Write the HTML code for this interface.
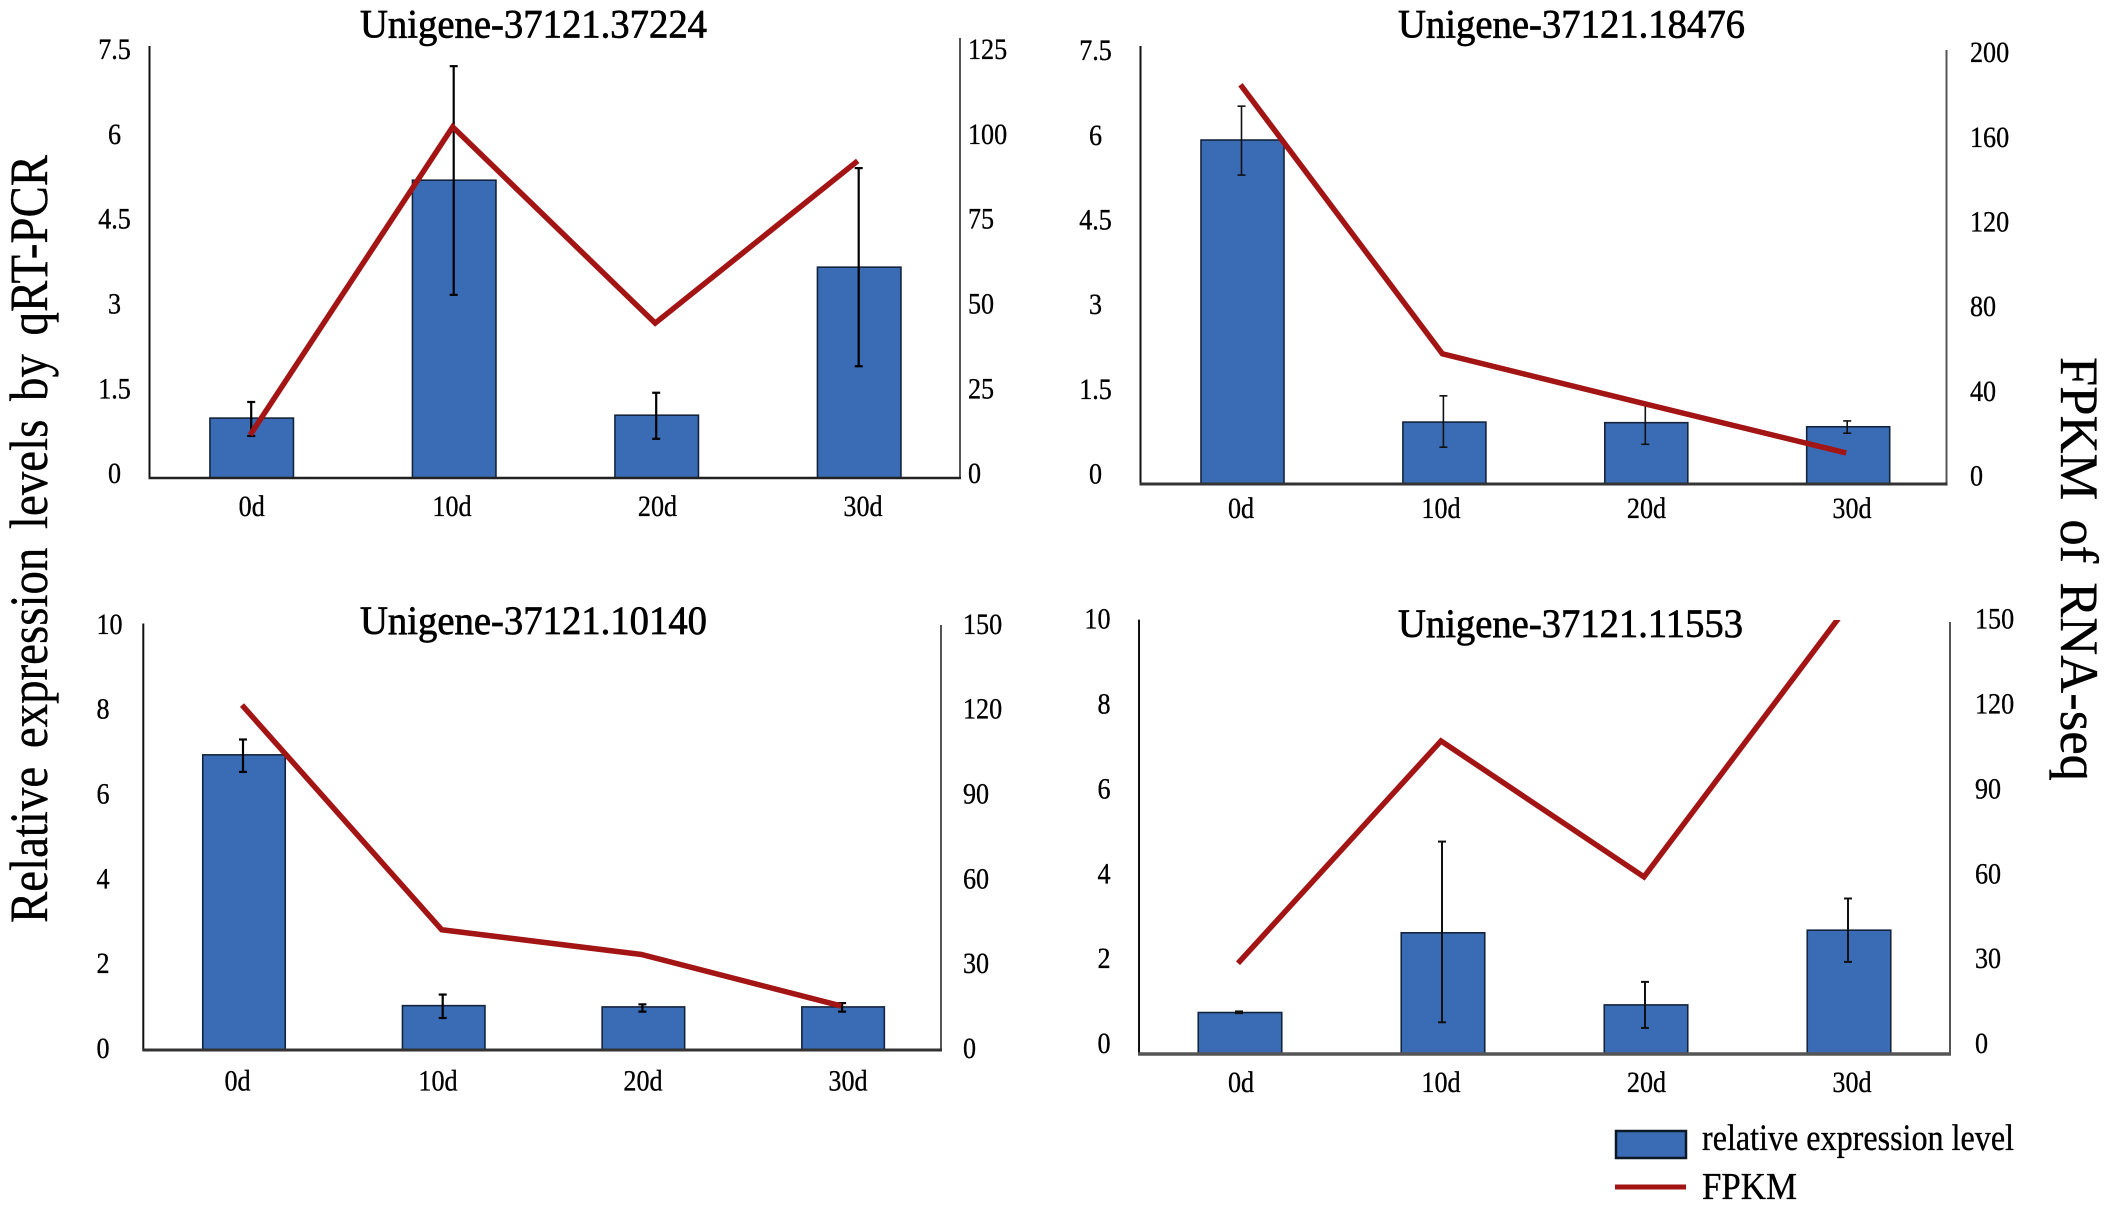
<!DOCTYPE html>
<html lang="en">
<head>
<meta charset="utf-8">
<title>Relative expression and FPKM of four unigenes</title>
<style>
html,body{margin:0;padding:0;background:#fff;}
svg{display:block;}
text{font-family:"Liberation Serif","Times New Roman",serif;fill:#000;stroke:#000;stroke-width:0.35px;}
.title{font-size:40px;stroke-width:0.7px;}
</style>
</head>
<body>
<svg id="figure" xmlns="http://www.w3.org/2000/svg" width="2110" height="1208" viewBox="0 0 2110 1208">
  <rect x="0" y="0" width="2110" height="1208" fill="#ffffff"/>
  <text transform="translate(47,923) rotate(-90)" font-size="54" word-spacing="8" textLength="768" lengthAdjust="spacingAndGlyphs">Relative expression levels by qRT-PCR</text>
  <text transform="translate(2061,357) rotate(90)" font-size="54" word-spacing="6" textLength="424" lengthAdjust="spacingAndGlyphs">FPKM of RNA-seq</text>
  <g id="panels"></g>
  <text class="title" x="360" y="37.5" textLength="347" lengthAdjust="spacingAndGlyphs">Unigene-37121.37224</text>
  <text class="title" x="1398" y="37.5" textLength="347" lengthAdjust="spacingAndGlyphs">Unigene-37121.18476</text>
  <text class="title" x="360" y="634" textLength="347" lengthAdjust="spacingAndGlyphs">Unigene-37121.10140</text>
  <text class="title" x="1398" y="637" textLength="345" lengthAdjust="spacingAndGlyphs">Unigene-37121.11553</text>
  <g>
    <rect x="1616" y="1131" width="70" height="27" fill="#3a6cb5" stroke="#0d1826" stroke-width="2.5"/>
    <text x="1702" y="1150" font-size="37" textLength="312" lengthAdjust="spacingAndGlyphs">relative expression level</text>
    <line x1="1615" y1="1187" x2="1686" y2="1187" stroke="#a31515" stroke-width="5"/>
    <text x="1702" y="1199" font-size="38" textLength="95" lengthAdjust="spacingAndGlyphs">FPKM</text>
  </g>
</svg>
<script>
// ---- data ----
const categories = ['0d', '10d', '20d', '30d'];

const ticksLeft37224 = [0, 1.5, 3, 4.5, 6, 7.5];
const ticksRight37224 = [0, 25, 50, 75, 100, 125];
const bars37224 = [1.04, 5.17, 1.09, 3.66];
const errHigh37224 = [1.32, 7.15, 1.48, 5.38];
const errLow37224 = [0.73, 3.18, 0.68, 1.94];
const fpkm37224 = [12.3, 100.2, 44.2, 90.5];

const ticksLeft18476 = [0, 1.5, 3, 4.5, 6, 7.5];
const ticksRight18476 = [0, 40, 80, 120, 160, 200];
const bars18476 = [5.89, 1.06, 1.05, 0.98];
const errHigh18476 = [6.47, 1.51, 1.39, 1.08];
const errLow18476 = [5.29, 0.63, 0.68, 0.87];
const fpkm18476 = [184, 60, 37, 14.3];

const ticksLeft10140 = [0, 2, 4, 6, 8, 10];
const ticksRight10140 = [0, 30, 60, 90, 120, 150];
const bars10140 = [6.92, 1.04, 1.01, 1.01];
const errHigh10140 = [7.28, 1.30, 1.07, 1.10];
const errLow10140 = [6.52, 0.75, 0.90, 0.90];
const fpkm10140 = [121.3, 42.3, 33.6, 15.5];

const ticksLeft11553 = [0, 2, 4, 6, 8, 10];
const ticksRight11553 = [0, 30, 60, 90, 120, 150];
const bars11553 = [0.955, 2.79, 1.13, 2.85];
const errHigh11553 = [0.98, 4.89, 1.66, 3.58];
const errLow11553 = [0.94, 0.73, 0.60, 2.12];
const fpkm11553 = [31.5, 108.7, 61.5, 155.2];

// ---- panel layout (pixels) ----
const panels = [
  {id:'37224', ticksL:ticksLeft37224, ticksR:ticksRight37224, bars:bars37224, hi:errHigh37224, lo:errLow37224, line:fpkm37224,
   left:149.5, right:960, base:478, topL:46, topR:40, axisTopL:46, axisTopR:38, barX:251.7, barStep:202.5, barW:83.5, markOff:-0.5,
   lab0L:473, labTopL:49, lab0R:473, labTopR:49, labLX:114.5, labLAnchor:'middle', labRX:968, catFirst:251.7, catSecond:452, catStep:205.5, catY:506, baseW:2.5, baseC:'#222', errW:2.2, errC:'#000'},
  {id:'18476', ticksL:ticksLeft18476, ticksR:ticksRight18476, bars:bars18476, hi:errHigh18476, lo:errLow18476, line:fpkm18476,
   left:1140.5, right:1946.5, base:484, topL:46, topR:50, axisTopL:46, axisTopR:50, barX:1242.5, barStep:201.9, barW:83, markOff:-1,
   lab0L:473.5, labTopL:50, lab0R:475.5, labTopR:52, labLX:1095.5, labLAnchor:'middle', labRX:1970, catFirst:1241, catSecond:1441, catStep:205.5, catY:508, baseW:3, baseC:'#333', errW:1.6, errC:'#111'},
  {id:'10140', ticksL:ticksLeft10140, ticksR:ticksRight10140, bars:bars10140, hi:errHigh10140, lo:errLow10140, line:fpkm10140,
   left:143.3, right:941, base:1050, topL:623.5, topR:623.5, axisTopL:623.5, axisTopR:625, barX:244, barStep:199.7, barW:82.5, markOff:-1,
   lab0L:1048, labTopL:623.7, lab0R:1048, labTopR:623.7, labLX:96.5, labLAnchor:'start', labRX:963, catFirst:237.5, catSecond:438, catStep:205, catY:1080.5, baseW:3, baseC:'#333', errW:2.2, errC:'#000'},
  {id:'11553', ticksL:ticksLeft11553, ticksR:ticksRight11553, bars:bars11553, hi:errHigh11553, lo:errLow11553, line:fpkm11553,
   left:1139, right:1950, base:1054, topL:619.6, topR:622, axisTopL:619.6, axisTopR:622, barX:1240, barStep:203, barW:83.5, markOff:-1,
   lab0L:1043, labTopL:618.6, lab0R:1043, labTopR:618.6, labLX:1110.5, labLAnchor:'end', labRX:1975, catFirst:1241, catSecond:1441, catStep:205.5, catY:1081.7, baseW:3.5, baseC:'#555', errW:2, errC:'#111'}
];

const NS = 'http://www.w3.org/2000/svg';
const BAR_FILL = '#3a6cb5';
const LINE_COLOR = '#a31515';
const TICK_FONT = 30;
const SQUEEZE = 0.87;

function add(parent, tag, name) {
  const el = document.createElementNS(NS, tag);
  
  
  parent.appendChild(el);
  return el;
}

function seg(parent, name, x1, y1, x2, y2, color, width) {
  const l = add(parent, 'line', name);
  l.setAttribute('x1', x1);
  l.setAttribute('y1', y1);
  l.setAttribute('x2', x2);
  l.setAttribute('y2', y2);
  l.setAttribute('stroke', color);
  l.setAttribute('stroke-width', width);
  return l;
}

function label(parent, name, str, x, yCenter, anchor) {
  const t = add(parent, 'text', name);
  t.textContent = str;
  t.setAttribute('font-size', TICK_FONT);
  t.setAttribute('text-anchor', anchor);
  t.setAttribute('transform', 'translate(' + x + ',' + (yCenter + TICK_FONT * 0.335) + ') scale(' + SQUEEZE + ',1)');
  return t;
}

const root = document.getElementById('panels');

panels.forEach(function (p) {
  const maxL = p.ticksL[p.ticksL.length - 1];
  const maxR = p.ticksR[p.ticksR.length - 1];
  const yL = function (v) { return p.base - v / maxL * (p.base - p.topL); };
  const yR = function (v) { return p.base - v / maxR * (p.base - p.topR); };
  const barCenter = function (i) { return p.barX + i * p.barStep; };
  const labelYL = function (frac) { return p.lab0L + (p.labTopL - p.lab0L) * frac; };
  const labelYR = function (frac) { return p.lab0R + (p.labTopR - p.lab0R) * frac; };
  const catCenter = function (i) { return i === 0 ? p.catFirst : p.catSecond + (i - 1) * p.catStep; };

  const g = add(root, 'g', 'panel-' + p.id);

  // bars
  categories.forEach(function (c, i) {
    const r = add(g, 'rect', 'bar-' + p.id + '-' + c);
    r.setAttribute('x', barCenter(i) - p.barW / 2);
    r.setAttribute('y', yL(p.bars[i]));
    r.setAttribute('width', p.barW);
    r.setAttribute('height', p.base - yL(p.bars[i]));
    r.setAttribute('fill', BAR_FILL);
    r.setAttribute('stroke', '#14243c');
    r.setAttribute('stroke-width', 1.6);
  });

  // axes
  seg(g, 'left-axis-' + p.id, p.left, p.axisTopL, p.left, p.base, '#111', 2);
  seg(g, 'right-axis-' + p.id, p.right, p.axisTopR, p.right, p.base, '#555', 2);
  seg(g, 'x-axis-' + p.id, p.left - 1, p.base, p.right + 1, p.base, p.baseC, p.baseW);

  // error bars
  categories.forEach(function (c, i) {
    const ex = barCenter(i) + p.markOff;
    const eg = add(g, 'g', 'error-bar-' + p.id + '-' + c);
    seg(eg, 'error-stem', ex, yL(p.hi[i]), ex, yL(p.lo[i]), p.errC, p.errW);
    seg(eg, 'error-cap-top', ex - 4, yL(p.hi[i]), ex + 4, yL(p.hi[i]), p.errC, p.errW);
    seg(eg, 'error-cap-bottom', ex - 4, yL(p.lo[i]), ex + 4, yL(p.lo[i]), p.errC, p.errW);
  });

  // FPKM line, clipped to the plot area
  const clip = add(g, 'clipPath', 'plot-clip-' + p.id);
  clip.setAttribute('id', 'clip-' + p.id);
  const clipRect = add(clip, 'rect', 'plot-clip-rect-' + p.id);
  clipRect.setAttribute('x', p.left);
  clipRect.setAttribute('y', p.topR - 2);
  clipRect.setAttribute('width', p.right - p.left);
  clipRect.setAttribute('height', p.base - p.topR + 2);

  const pts = p.line.map(function (v, i) {
    return (barCenter(i) + p.markOff - 1) + ',' + yR(v);
  }).join(' ');
  const pl = add(g, 'polyline', 'fpkm-line-' + p.id);
  pl.setAttribute('points', pts);
  pl.setAttribute('fill', 'none');
  pl.setAttribute('stroke', LINE_COLOR);
  pl.setAttribute('stroke-width', 5.5);
  pl.setAttribute('stroke-linejoin', 'miter');
  pl.setAttribute('clip-path', 'url(#clip-' + p.id + ')');

  // tick labels
  p.ticksL.forEach(function (v) {
    label(g, 'left-tick-' + p.id + '-' + v, String(v), p.labLX, labelYL(v / maxL), p.labLAnchor);
  });
  p.ticksR.forEach(function (v) {
    label(g, 'right-tick-' + p.id + '-' + v, String(v), p.labRX, labelYR(v / maxR), 'start');
  });
  categories.forEach(function (c, i) {
    label(g, 'x-tick-' + p.id + '-' + c, c, catCenter(i), p.catY, 'middle');
  });
});
</script>
</body>
</html>
